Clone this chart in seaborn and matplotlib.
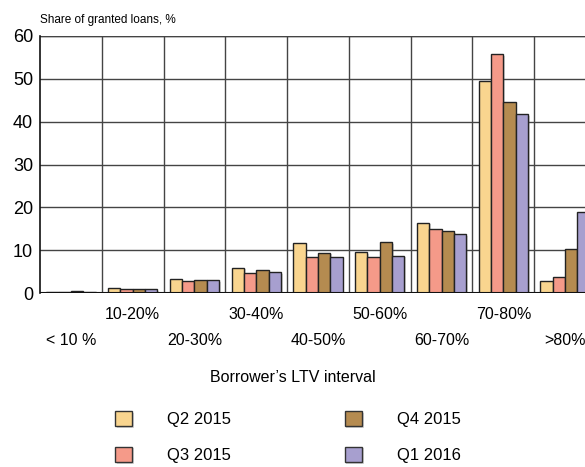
import matplotlib
matplotlib.use("Agg")
import matplotlib.pyplot as plt
import matplotlib.patheffects as pe
import seaborn as sns
import pandas as pd

categories = ["< 10 %", "10-20%", "20-30%", "30-40%", "40-50%", "50-60%", "60-70%", "70-80%", ">80%"]
series_names = ["Q2 2015", "Q3 2015", "Q4 2015", "Q1 2016"]
q2_2015 = [0.3, 1.2, 3.3, 5.9, 11.6, 9.5, 16.4, 49.6, 2.8]
q3_2015 = [0.2, 1.0, 2.8, 4.7, 8.5, 8.5, 15.0, 55.7, 3.7]
q4_2015 = [0.5, 1.0, 3.0, 5.4, 9.4, 11.9, 14.4, 44.7, 10.2]
q1_2016 = [0.3, 0.9, 3.0, 4.8, 8.4, 8.7, 13.8, 41.7, 19.0]
colors = ["#F9D58F", "#F59A89", "#B58B50", "#A79FCF"]
yticks = [0, 10, 20, 30, 40, 50, 60]

rows = []
for name, vals in zip(series_names, [q2_2015, q3_2015, q4_2015, q1_2016]):
    for c, v in zip(categories, vals):
        rows.append({"cat": c, "val": v, "q": name})
df = pd.DataFrame(rows)

sns.set_theme(style="white")
plt.rcParams["font.family"] = ["Liberation Sans", "DejaVu Sans"]
plt.rcParams["text.color"] = "black"
plt.rcParams["ytick.color"] = "black"
plt.rcParams["xtick.color"] = "black"

fig = plt.figure(figsize=(5.85, 4.67), dpi=100)
ax = fig.add_axes([40/585, 1-293/467, 556/585, 257/467])

sns.barplot(data=df, x="cat", y="val", hue="q", order=categories, hue_order=series_names,
            palette=colors, saturation=1, edgecolor="#222222", linewidth=1.0, width=0.8, ax=ax,
            legend=True)

for p in ax.patches:
    p.set_path_effects([pe.SimplePatchShadow(offset=(1.2, -1.2), alpha=0.25, shadow_rgbFace="#555555"), pe.Normal()])

ax.set_ylim(0, 60)
ax.set_xlim(-0.5, len(categories) - 0.5)
ax.set_yticks(yticks)
ax.set_yticklabels([str(t) for t in yticks], fontsize=13)
ax.tick_params(axis="both", length=0, pad=5)

for t in yticks[1:]:
    ax.axhline(t, color="#444444", lw=1.0, zorder=0)
for i in range(1, len(categories)):
    ax.axvline(i - 0.5, color="#444444", lw=1.0, zorder=0)

ax.set_xticks(range(len(categories)))
ax.set_xticklabels([])
for i, c in enumerate(categories):
    yoff = -0.183 if i % 2 == 0 else -0.082
    ax.text(i, yoff, c, transform=ax.get_xaxis_transform(), ha="center", va="center", fontsize=11.5)

for s in ["top", "right", "bottom"]:
    ax.spines[s].set_visible(False)
ax.spines["left"].set_color("#111111")
ax.spines["left"].set_linewidth(1.2)
ax.axhline(0, color="#111111", lw=1.5, zorder=3)
ax.axhline(60, color="#444444", lw=1.0, zorder=0)

ax.set_xlabel("")
ax.set_ylabel("")
fig.text(40/585, 1-20/467, "Share of granted loans, %", fontsize=8.5, ha="left", va="center")
fig.text(293/585, 1-378/467, "Borrower\u2019s LTV interval", fontsize=11.5, ha="center", va="center")

handles, labels = ax.get_legend_handles_labels()
ax.get_legend().remove()
for h in handles:
    h.set_edgecolor("#333333")
fig.legend(handles, labels, loc="center", bbox_to_anchor=(288/585, 1-437/467), ncol=2,
           frameon=False, fontsize=12, handlelength=1.05, handleheight=1.05,
           handletextpad=2.1, columnspacing=6.8, labelspacing=1.15)

fig.savefig("out.png", dpi=100)
